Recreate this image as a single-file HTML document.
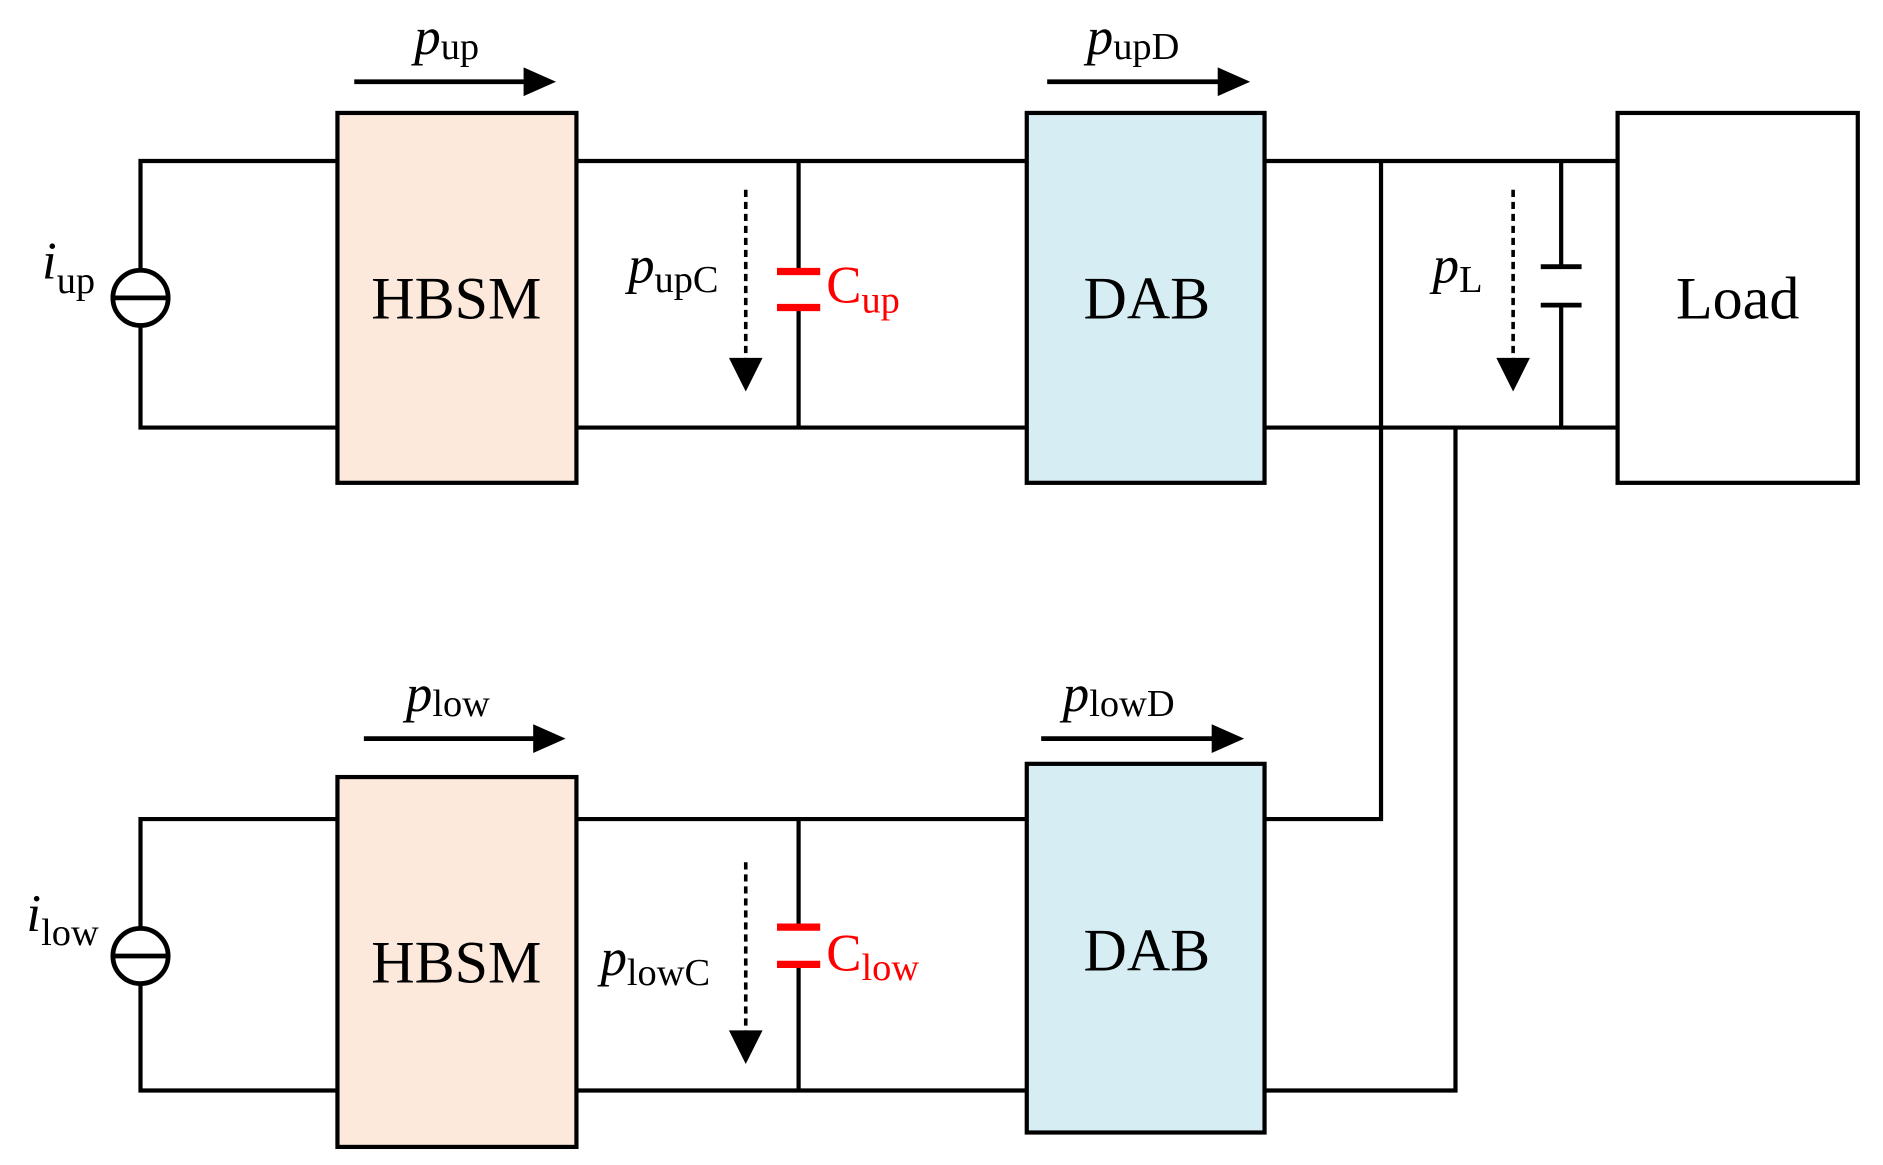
<!DOCTYPE html>
<html><head><style>html,body{margin:0;padding:0;background:#fff;}svg{display:block}</style></head>
<body>
<svg width="1883" height="1165" viewBox="0 0 1568 970" xmlns="http://www.w3.org/2000/svg" font-family="Liberation Serif, serif">
<g stroke="#000" stroke-width="3.5" fill="none">
<path d="M281,134 H117 V356 H281"/>
<path d="M281,682 H117 V908 H281"/>
<path d="M480,134 H855 M480,356 H855 M665,134 V226 M665,256 V356"/>
<path d="M480,682 H855 M480,908 H855 M665,682 V772 M665,803 V908"/>
<path d="M1053,134 H1347 M1053,356 H1347 M1150,134 V682 H1053 M1212,356 V908 H1053"/>
<path d="M1300,134 V222 M1300,254 V356"/>
</g>
<g stroke="#000" stroke-width="4">
<line x1="1283" y1="222" x2="1317" y2="222"/>
<line x1="1283" y1="254" x2="1317" y2="254"/>
</g>
<g stroke="#000" stroke-width="4" fill="#fff">
<circle cx="117" cy="248" r="23"/><line x1="94" y1="248" x2="140" y2="248"/>
<circle cx="117" cy="796" r="23"/><line x1="94" y1="796" x2="140" y2="796"/>
</g>
<g stroke="#f00" stroke-width="6">
<line x1="647" y1="226" x2="683" y2="226"/><line x1="647" y1="256" x2="683" y2="256"/>
<line x1="647" y1="772" x2="683" y2="772"/><line x1="647" y1="803" x2="683" y2="803"/>
</g>
<g stroke="#000" stroke-width="3.5">
<rect x="281" y="94" width="199" height="308" fill="#fde9dc"/>
<rect x="281" y="647" width="199" height="308" fill="#fde9dc"/>
<rect x="855" y="94" width="198" height="308" fill="#d6eef3"/>
<rect x="855" y="636" width="198" height="307" fill="#d6eef3"/>
<rect x="1347" y="94" width="200" height="308" fill="#fff"/>
</g>
<g font-size="50" text-anchor="middle">
<text x="380" y="265">HBSM</text>
<text x="380" y="818">HBSM</text>
<text x="955" y="265">DAB</text>
<text x="955" y="808">DAB</text>
<text x="1447" y="265">Load</text>
</g>
<g stroke="#000" stroke-width="4">
<line x1="295" y1="68" x2="440" y2="68"/>
<line x1="872" y1="68" x2="1018" y2="68"/>
<line x1="303" y1="615" x2="448" y2="615"/>
<line x1="867" y1="615" x2="1013" y2="615"/>
</g>
<g fill="#000">
<path d="M436,56 L463,68 L436,80z"/>
<path d="M1014,56 L1041,68 L1014,80z"/>
<path d="M444,603 L471,615 L444,627z"/>
<path d="M1009,603 L1036,615 L1009,627z"/>
</g>
<g stroke="#000" stroke-width="3" stroke-dasharray="6,4">
<line x1="621" y1="158" x2="621" y2="300"/>
<line x1="1260" y1="158" x2="1260" y2="300"/>
<line x1="621" y1="718" x2="621" y2="860"/>
</g>
<g fill="#000">
<path d="M607,298 L635,298 L621,326z"/>
<path d="M1246,298 L1274,298 L1260,326z"/>
<path d="M607,858 L635,858 L621,886z"/>
</g>
<g font-size="44">
<text x="345" y="45"><tspan font-style="italic">p</tspan><tspan font-size="32" dy="4">up</tspan></text>
<text x="905" y="45"><tspan font-style="italic">p</tspan><tspan font-size="32" dy="4">upD</tspan></text>
<text x="338" y="592"><tspan font-style="italic">p</tspan><tspan font-size="32" dy="4">low</tspan></text>
<text x="885" y="592"><tspan font-style="italic">p</tspan><tspan font-size="32" dy="4">lowD</tspan></text>
<text x="523" y="235"><tspan font-style="italic">p</tspan><tspan font-size="32" dy="8">upC</tspan></text>
<text x="500" y="812"><tspan font-style="italic">p</tspan><tspan font-size="32" dy="8">lowC</tspan></text>
<text x="1193" y="235"><tspan font-style="italic">p</tspan><tspan font-size="32" dy="8">L</tspan></text>
<text x="35" y="232"><tspan font-style="italic">i</tspan><tspan font-size="32" dy="12">up</tspan></text>
<text x="22" y="775"><tspan font-style="italic">i</tspan><tspan font-size="32" dy="12">low</tspan></text>
<text x="688" y="252" fill="#f00">C<tspan font-size="32" dy="8">up</tspan></text>
<text x="688" y="808" fill="#f00">C<tspan font-size="32" dy="8">low</tspan></text>
</g>
</svg>
</body></html>
